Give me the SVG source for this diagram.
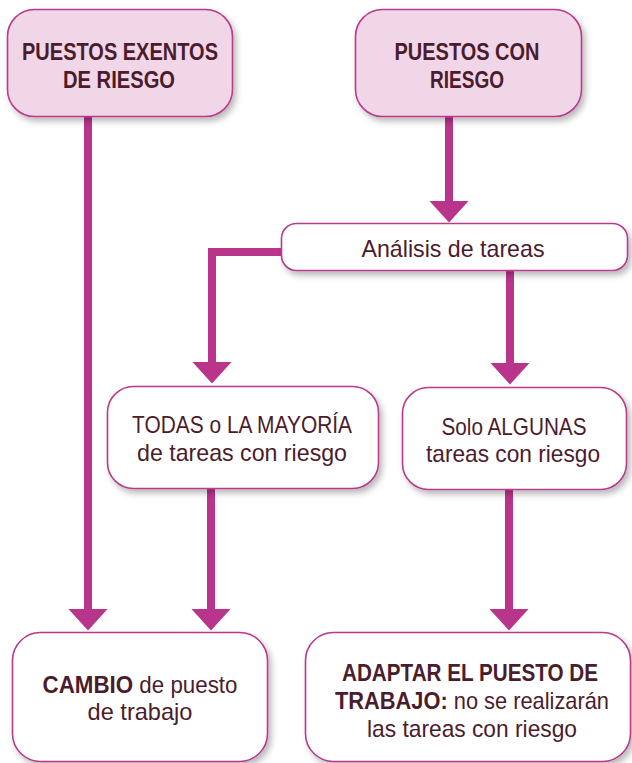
<svg xmlns="http://www.w3.org/2000/svg" width="632" height="763" viewBox="0 0 632 763">
<defs>
<filter id="sh" x="-10%" y="-10%" width="130%" height="140%">
<feDropShadow dx="3" dy="4" stdDeviation="3" flood-color="#000" flood-opacity="0.28"/>
</filter>
<marker id="ah" viewBox="0 0 22 40" refX="0.5" refY="20" markerWidth="22" markerHeight="40" markerUnits="userSpaceOnUse" orient="auto">
<path d="M0,0 L22,20 L0,40 Z" fill="#b8358b"/>
</marker>
<style>
.pink{fill:#f1d6e8;stroke:#b83a8c;stroke-width:1.6;filter:url(#sh)}
.white{fill:#ffffff;stroke:#b83a8c;stroke-width:1.6;filter:url(#sh)}
.t{font-family:"Liberation Sans",Arial,sans-serif;font-size:24px;fill:#4b1c2c;text-anchor:middle}
.b{font-weight:bold}
.c{fill:none;stroke:#b8358b;stroke-width:8;stroke-linejoin:miter}
</style>
</defs>
<g id="connectors">
<path class="c" d="M88,117 V609" marker-end="url(#ah)"/>
<path class="c" d="M449,117 V201" marker-end="url(#ah)"/>
<path class="c" d="M281,252 H212 V362" marker-end="url(#ah)"/>
<path class="c" d="M510,271 V363" marker-end="url(#ah)"/>
<path class="c" d="M211,489 V609" marker-end="url(#ah)"/>
<path class="c" d="M509,490 V609" marker-end="url(#ah)"/>
</g>
<g id="exentos">
<rect class="pink" x="7.5" y="9.5" width="225" height="107" rx="27"/>
<text class="t b" x="120" y="60" textLength="196" lengthAdjust="spacingAndGlyphs">PUESTOS EXENTOS</text>
<text class="t b" x="119" y="88" textLength="112" lengthAdjust="spacingAndGlyphs">DE RIESGO</text>
</g>
<g id="conriesgo">
<rect class="pink" x="355.5" y="9.5" width="226" height="107" rx="27"/>
<text class="t b" x="467" y="60" textLength="145" lengthAdjust="spacingAndGlyphs">PUESTOS CON</text>
<text class="t b" x="467" y="88" textLength="74" lengthAdjust="spacingAndGlyphs">RIESGO</text>
</g>
<g id="analisis">
<rect class="white" x="281.5" y="223.5" width="346" height="47" rx="15"/>
<text class="t" x="453" y="257" textLength="183" lengthAdjust="spacingAndGlyphs">Análisis de tareas</text>
</g>
<g id="todas">
<rect class="white" x="107.5" y="386.5" width="271" height="102" rx="26"/>
<text class="t" x="242" y="433" textLength="220" lengthAdjust="spacingAndGlyphs">TODAS o LA MAYORÍA</text>
<text class="t" x="242" y="461" textLength="210" lengthAdjust="spacingAndGlyphs">de tareas con riesgo</text>
</g>
<g id="algunas">
<rect class="white" x="402.5" y="387.5" width="224" height="102" rx="26"/>
<text class="t" x="514" y="435" textLength="145" lengthAdjust="spacingAndGlyphs">Solo ALGUNAS</text>
<text class="t" x="513" y="462" textLength="174" lengthAdjust="spacingAndGlyphs">tareas con riesgo</text>
</g>
<g id="cambio">
<rect class="white" x="12.5" y="632.5" width="255" height="129" rx="28"/>
<text class="t" x="140" y="693" textLength="195" lengthAdjust="spacingAndGlyphs"><tspan class="b">CAMBIO</tspan> de puesto</text>
<text class="t" x="140" y="720" textLength="105" lengthAdjust="spacingAndGlyphs">de trabajo</text>
</g>
<g id="adaptar">
<rect class="white" x="305.5" y="632.5" width="325" height="129" rx="28"/>
<text class="t b" x="470" y="681" textLength="256" lengthAdjust="spacingAndGlyphs">ADAPTAR EL PUESTO DE</text>
<text class="t" x="472" y="709" textLength="274" lengthAdjust="spacingAndGlyphs"><tspan class="b">TRABAJO:</tspan> no se realizarán</text>
<text class="t" x="472" y="737" textLength="210" lengthAdjust="spacingAndGlyphs">las tareas con riesgo</text>
</g>
</svg>
